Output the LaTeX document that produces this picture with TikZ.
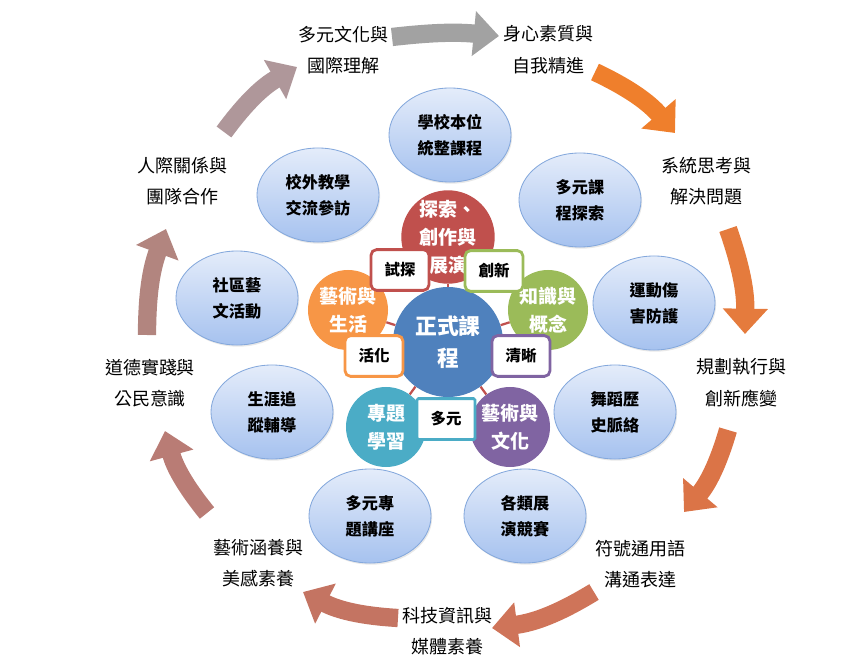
\documentclass[tikz,border=0pt]{standalone}
\usepackage{fontspec}
\setmainfont{Noto Sans CJK TC}
\usetikzlibrary{arrows.meta,shapes.geometric,shadows}
\definecolor{coreBlue}{HTML}{4F81BD}
\definecolor{petalRed}{HTML}{C0504D}
\definecolor{petalGreen}{HTML}{9BBB59}
\definecolor{petalPurple}{HTML}{8064A2}
\definecolor{petalTeal}{HTML}{4BACC6}
\definecolor{petalOrange}{HTML}{F79646}
\definecolor{bubbleTop}{HTML}{E4ECFA}
\definecolor{bubbleBot}{HTML}{A6C2EF}
\definecolor{bubbleLine}{HTML}{84A8DC}
\definecolor{flowGrey}{HTML}{A2A2A2}
\definecolor{flowA}{HTML}{EF7F2C}
\definecolor{flowB}{HTML}{E57B3D}
\definecolor{flowC}{HTML}{DB7447}
\definecolor{flowD}{HTML}{CF7459}
\definecolor{flowE}{HTML}{C47462}
\definecolor{flowF}{HTML}{B97C75}
\definecolor{flowG}{HTML}{B2857F}
\definecolor{flowH}{HTML}{AF979A}

\tikzset{
  skill/.style={align=center,inner sep=0pt,font=\fontsize{12.8}{22.5}\selectfont},
  bubble/.style={ellipse,draw=bubbleLine,line width=0.6pt,top color=bubbleTop,bottom color=bubbleBot,
    minimum width=3.05cm,minimum height=2.35cm,inner sep=0pt,align=center,
    font=\bfseries\fontsize{11.5}{18.5}\selectfont,
    drop shadow={opacity=0.18,shadow xshift=0.8pt,shadow yshift=-1.2pt}},
  petal/.style={circle,minimum size=2cm,inner sep=0pt,text=white,align=center,
    font=\bfseries\fontsize{13.5}{20}\selectfont},
  core/.style={petal,minimum size=2.75cm,fill=coreBlue,font=\bfseries\fontsize{15.5}{22.5}\selectfont},
  tag/.style={draw,fill=white,line width=2pt,rounded corners=4pt,minimum width=1.45cm,
    minimum height=1.02cm,inner sep=0pt,font=\bfseries\fontsize{11}{13}\selectfont},
  spoke/.style={draw=petalRed,line width=1.6pt},
  flow/.style={line width=13pt,-{Triangle[length=18pt,width=31pt]}}
}

\begin{document}
\begin{tikzpicture}[x=0.025cm,y=-0.025cm]
  \useasboundingbox (0,0) rectangle (856,663);

  % outer ring of competences
  \node[skill] (l1) at (343,50) {多元文化與\\國際理解};
  \node[skill] (l2) at (548,50) {身心素質與\\自我精進};
  \node[skill] (l3) at (706,181) {系統思考與\\解決問題};
  \node[skill] (l4) at (741,383) {規劃執行與\\創新應變};
  \node[skill] (l5) at (640,564) {符號通用語\\溝通表達};
  \node[skill] (l6) at (447,631) {科技資訊與\\媒體素養};
  \node[skill] (l7) at (258,563) {藝術涵養與\\美感素養};
  \node[skill] (l8) at (150,383) {道德實踐與\\公民意識};
  \node[skill] (l9) at (182,181) {人際關係與\\團隊合作};

  % curved arrows between them
  \coordinate (a1s) at (392,37);  \coordinate (a1e) at (499,36);
  \coordinate (a2s) at (595,72);  \coordinate (a2e) at (675,133);
  \coordinate (a3s) at (728,229); \coordinate (a3e) at (745,334);
  \coordinate (a4s) at (728,430); \coordinate (a4e) at (684,512);
  \coordinate (a5s) at (594,592); \coordinate (a5e) at (492,628);
  \coordinate (a6s) at (398,618); \coordinate (a6e) at (303,592);
  \coordinate (a7s) at (207,513); \coordinate (a7e) at (165,431);
  \coordinate (a8s) at (147,335); \coordinate (a8e) at (166,229);
  \coordinate (a9s) at (224,132); \coordinate (a9e) at (297,67);
  \draw[flow,draw=flowGrey] (a1s) to[bend left=6] (a1e);
  \draw[flow,draw=flowA] (a2s) to[bend left=12] (a2e);
  \draw[flow,draw=flowB] (a3s) to[bend left=10] (a3e);
  \draw[flow,draw=flowC] (a4s) to[bend left=12] (a4e);
  \draw[flow,draw=flowD] (a5s) to[bend left=12] (a5e);
  \draw[flow,draw=flowE] (a6s) to[bend left=12] (a6e);
  \draw[flow,draw=flowF] (a7s) to[bend left=12] (a7e);
  \draw[flow,draw=flowG] (a8s) to[bend left=10] (a8e);
  \draw[flow,draw=flowH] (a9s) to[bend left=12] (a9e);

  % activities
  \node[bubble] (b1) at (450,135) {學校本位\\統整課程};
  \node[bubble] (b2) at (580,200) {多元課\\程探索};
  \node[bubble] (b3) at (654,303) {運動傷\\害防護};
  \node[bubble] (b4) at (615,412) {舞蹈歷\\史脈絡};
  \node[bubble] (b5) at (525,516) {各類展\\演競賽};
  \node[bubble] (b6) at (370,516) {多元專\\題講座};
  \node[bubble] (b7) at (272,412) {生涯追\\蹤輔導};
  \node[bubble] (b8) at (237,298) {社區藝\\文活動};
  \node[bubble] (b9) at (318,195) {校外教學\\交流參訪};

  % formal curriculum
  \node[core] (core) at (448,342) {正式課\\程};
  \node[petal,fill=petalRed] (pRed) at (448,237) {探索、\\創作與\\展演};
  \node[petal,fill=petalGreen] (pGreen) at (548,310) {知識與\\概念};
  \node[petal,fill=petalPurple] (pPurple) at (510,427) {藝術與\\文化};
  \node[petal,fill=petalTeal] (pTeal) at (386,427) {專題\\學習};
  \node[petal,fill=petalOrange] (pOrange) at (348,310) {藝術與\\生活};
  \draw[spoke] (core) -- (pRed);
  \draw[spoke] (core) -- (pGreen);
  \draw[spoke] (core) -- (pPurple);
  \draw[spoke] (core) -- (pTeal);
  \draw[spoke] (core) -- (pOrange);

  \node[tag,draw=petalRed] (t1) at (400,270) {試探};
  \node[tag,draw=petalGreen] (t2) at (494,271) {創新};
  \node[tag,draw=petalPurple] (t3) at (521,356) {清晰};
  \node[tag,draw=petalTeal,rounded corners=1pt] (t4) at (446,419) {多元};
  \node[tag,draw=petalOrange] (t5) at (374,356) {活化};
\end{tikzpicture}
\end{document}
